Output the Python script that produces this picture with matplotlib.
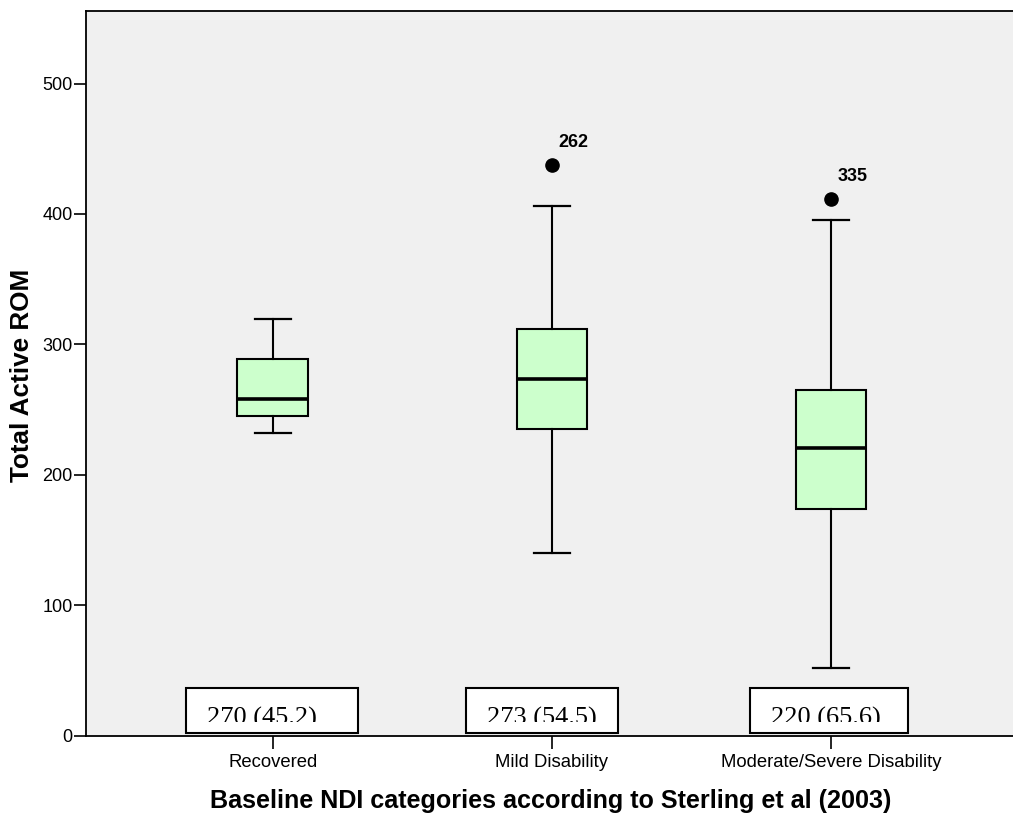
import matplotlib
matplotlib.use("Agg")
import matplotlib.pyplot as plt
from matplotlib.patches import Rectangle
from matplotlib.transforms import Bbox, TransformedBbox

# Summary statistics of Total Active ROM per baseline NDI category
categories = ["Recovered", "Mild Disability", "Moderate/Severe Disability"]
whisker_low = [231.7, 139.7, 51.8]
q1 = [244.8, 234.8, 173.5]
median = [257.8, 273.4, 220.5]
q3 = [288.5, 311.5, 265.0]
whisker_high = [319.5, 406.0, 395.6]
outliers = [[], [437.5], [411.7]]
outlier_ids = [[], ["262"], ["335"]]

# Mean (SD) per group
means = [270, 273, 220]
sds = [45.2, 54.5, 65.6]

yticks = [0, 100, 200, 300, 400, 500]

W, H = 1013, 814
fig = plt.figure(figsize=(W / 100, H / 100), dpi=100)
ax = fig.add_axes([86 / W, (H - 735.5) / H, (W - 86) / W, (735.5 - 11) / H])
ax.set_facecolor("#F0F0F0")

positions = [1, 2, 3]
stats = []
for i, name in enumerate(categories):
    stats.append(dict(label=name, med=median[i], q1=q1[i], q3=q3[i],
                      whislo=whisker_low[i], whishi=whisker_high[i],
                      fliers=outliers[i]))

ax.bxp(stats, positions=positions, widths=0.252, capwidths=0.13,
       patch_artist=True, manage_ticks=False,
       boxprops=dict(facecolor="#CCFFCC", edgecolor="black", linewidth=1.5),
       medianprops=dict(color="black", linewidth=2.6),
       whiskerprops=dict(color="black", linewidth=1.5),
       capprops=dict(color="black", linewidth=1.6),
       flierprops=dict(marker="o", markerfacecolor="black",
                       markeredgecolor="black", markersize=9.5))

# Case labels next to the outliers
for pos, vals, ids in zip(positions, outliers, outlier_ids):
    for v, cid in zip(vals, ids):
        ax.annotate(cid, xy=(pos, v), xytext=(5, 10), textcoords="offset points",
                    fontsize=13, fontweight="bold", family="Liberation Sans",
                    ha="left", va="bottom")

ax.set_xlim(0.3313, 3.652)
ax.set_ylim(0, 555.6)

# Mean (SD) boxes along the bottom of the plot
box_left = [0.6895, 1.693, 2.710]
box_right = [1.305, 2.237, 3.276]
box_bottom, box_top = 2.3, 36.3
text_clip_bottom = 10.6
for i in range(3):
    rect = Rectangle((box_left[i], box_bottom), box_right[i] - box_left[i],
                     box_top - box_bottom, facecolor="white", edgecolor="black",
                     linewidth=1.5, zorder=3)
    ax.add_patch(rect)
    clip = TransformedBbox(Bbox([[box_left[i], text_clip_bottom],
                                 [box_right[i], box_top]]), ax.transData)
    t = ax.text(box_left[i] + 0.075, 8.7, f"{means[i]} ({sds[i]})",
                family="Liberation Serif", fontsize=19, ha="left",
                va="baseline", zorder=4)
    t.set_clip_on(True)
    t.set_clip_box(clip)

ax.set_xticks(positions)
ax.set_xticklabels(categories, family="Liberation Sans", fontsize=13.3)
ax.set_yticks(yticks)
ax.set_yticklabels([str(v) for v in yticks], family="Liberation Sans", fontsize=13)
ax.tick_params(axis="y", length=8.6, width=1.2, pad=1)
ax.tick_params(axis="x", length=9, width=1.2, pad=4)

for side in ["left", "top", "bottom"]:
    ax.spines[side].set_linewidth(1.3)
    ax.spines[side].set_color("black")
ax.spines["right"].set_visible(False)

fig.text(22 / W, 1 - 375 / H, "Total Active ROM", rotation=90, ha="center",
         va="center", fontsize=18.8, fontweight="bold", family="Liberation Sans")
fig.text(551 / W, 1 - 801 / H,
         "Baseline NDI categories according to Sterling et al (2003)",
         ha="center", va="center", fontsize=18.1, fontweight="bold",
         family="Liberation Sans")

fig.savefig("out.png", dpi=100)
